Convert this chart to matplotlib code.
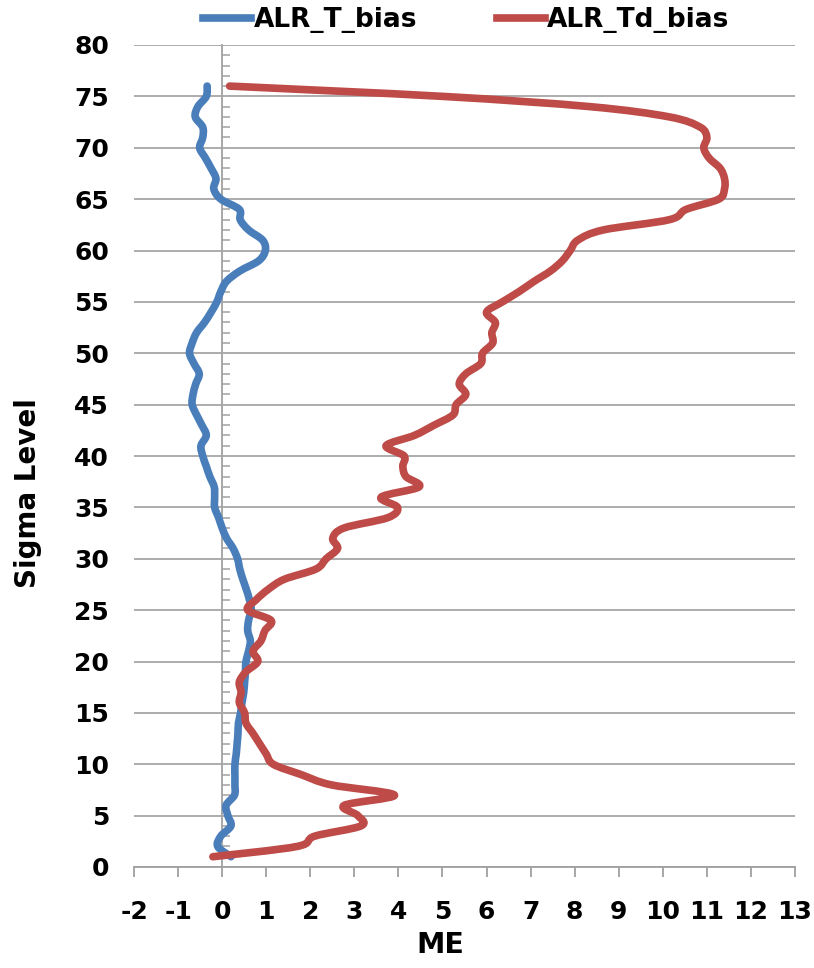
import numpy as np
import matplotlib
matplotlib.use("Agg")
import matplotlib.pyplot as plt
from matplotlib.ticker import MultipleLocator
from matplotlib.path import Path
from matplotlib.patches import PathPatch
from matplotlib.lines import Line2D

plt.rcParams['font.family'] = ['DejaVu Sans']
plt.rcParams['font.weight'] = 'bold'
plt.rcParams['axes.unicode_minus'] = False

# sigma levels 1..76 (bottom to top)
sigma = np.arange(1, 77)

# ALR_T_bias, level 1 -> 76
t_bias = [0.20, -0.10, -0.03, 0.20, 0.13, 0.09, 0.28, 0.29, 0.29, 0.29,
          0.32, 0.34, 0.36, 0.37, 0.42, 0.45, 0.49, 0.51, 0.53, 0.54,
          0.60, 0.64, 0.58, 0.60, 0.66, 0.62, 0.55, 0.47, 0.40, 0.35,
          0.25, 0.10, 0.00, -0.08, -0.17, -0.17, -0.18, -0.28, -0.36, -0.44,
          -0.48, -0.36, -0.46, -0.58, -0.68, -0.66, -0.60, -0.52, -0.64, -0.74,
          -0.68, -0.58, -0.40, -0.25, -0.12, -0.03, 0.10, 0.40, 0.83, 0.98,
          0.92, 0.60, 0.41, 0.39, -0.03, -0.19, -0.14, -0.25, -0.38, -0.51,
          -0.44, -0.44, -0.61, -0.55, -0.36, -0.34]

# ALR_Td_bias, level 1 -> 76
td_bias = [-0.21, 1.70, 2.10, 3.15, 3.08, 2.77, 3.91, 2.47, 1.79, 1.16,
           1.00, 0.85, 0.70, 0.54, 0.51, 0.39, 0.43, 0.39, 0.54, 0.81,
           0.70, 0.88, 0.97, 1.11, 0.58, 0.77, 1.04, 1.41, 2.13, 2.36,
           2.62, 2.51, 2.77, 3.76, 3.98, 3.61, 4.47, 4.17, 4.10, 4.13,
           3.72, 4.36, 4.81, 5.24, 5.31, 5.53, 5.38, 5.53, 5.87, 5.91,
           6.14, 6.12, 6.20, 6.00, 6.36, 6.74, 7.08, 7.45, 7.72, 7.90,
           8.07, 8.65, 10.15, 10.53, 11.27, 11.40, 11.40, 11.30, 11.05, 10.93,
           11.00, 10.85, 10.15, 8.35, 5.00, 0.17]

x_ticks = list(range(-2, 14))
y_ticks = list(range(0, 81, 5))

BLUE = '#4A7EBB'
RED = '#BE4B48'
GRID = '#A6A6A6'


# excel style smoothed line: bezier segments through the data points
def smooth_path(xs, ys):
    pts = np.column_stack([xs, ys]).astype(float)
    n = len(pts)
    verts = [pts[0]]
    codes = [Path.MOVETO]
    for i in range(n - 1):
        p0 = pts[i - 1] if i > 0 else pts[i]
        p1 = pts[i]
        p2 = pts[i + 1]
        p3 = pts[i + 2] if i + 2 < n else pts[i + 1]
        verts += [p1 + (p2 - p0) / 6, p2 - (p3 - p1) / 6, p2]
        codes += [Path.CURVE4] * 3
    return Path(verts, codes)


fig = plt.figure(figsize=(8.14, 9.68), dpi=100)
ax = fig.add_axes([134 / 814, 101 / 968, 661 / 814, 822 / 968])

for vals, col in [(t_bias, BLUE), (td_bias, RED)]:
    ax.add_patch(PathPatch(smooth_path(vals, sigma), facecolor='none', edgecolor=col,
                           lw=5.5, capstyle='round', joinstyle='round', zorder=3))

ax.set_xlim(-2, 13)
ax.set_ylim(0, 80)
ax.set_xticks(x_ticks)
ax.set_yticks(y_ticks)

for s in ['top', 'right', 'left']:
    ax.spines[s].set_visible(False)
ax.spines['bottom'].set_color('#A0A0A0')
ax.spines['bottom'].set_linewidth(1.3)

ax.tick_params(axis='x', direction='out', length=7, width=1.3, color='#A0A0A0',
               pad=17, labelsize=18)
ax.tick_params(axis='y', length=0, pad=18, labelsize=18)
ax.yaxis.grid(True, color=GRID, lw=1.3)
ax.set_axisbelow(True)

# the vertical axis crosses at x = 0
sec = ax.secondary_yaxis(2 / 15)
sec.spines['left'].set_color('#A0A0A0')
sec.spines['left'].set_linewidth(1.3)
sec.set_yticks(y_ticks)
sec.yaxis.set_minor_locator(MultipleLocator(1))
sec.tick_params(which='major', length=0, labelleft=False)
sec.tick_params(which='minor', direction='in', length=6, width=1.1, color='#A0A0A0')

ax.set_xlabel('ME', fontsize=20.5, fontweight='bold', va='top')
ax.xaxis.set_label_coords((440 - 134) / 661, (867 - 931) / 822)
ax.set_ylabel('Sigma Level', fontsize=20, fontweight='bold')
ax.yaxis.set_label_coords((28 - 134) / 661, (867 - 493) / 822)
ax.yaxis.label.set_va('center')

handles = [Line2D([], [], color=BLUE, lw=5.5), Line2D([], [], color=RED, lw=5.5)]
fig.legend(handles, ['ALR_T_bias', 'ALR_Td_bias'], loc='center',
           bbox_to_anchor=(0.573, 0.979), ncol=2, frameon=False,
           fontsize=19, handlelength=1.82, handletextpad=0.1, columnspacing=3.0)

fig.savefig('out.png', dpi=100)
